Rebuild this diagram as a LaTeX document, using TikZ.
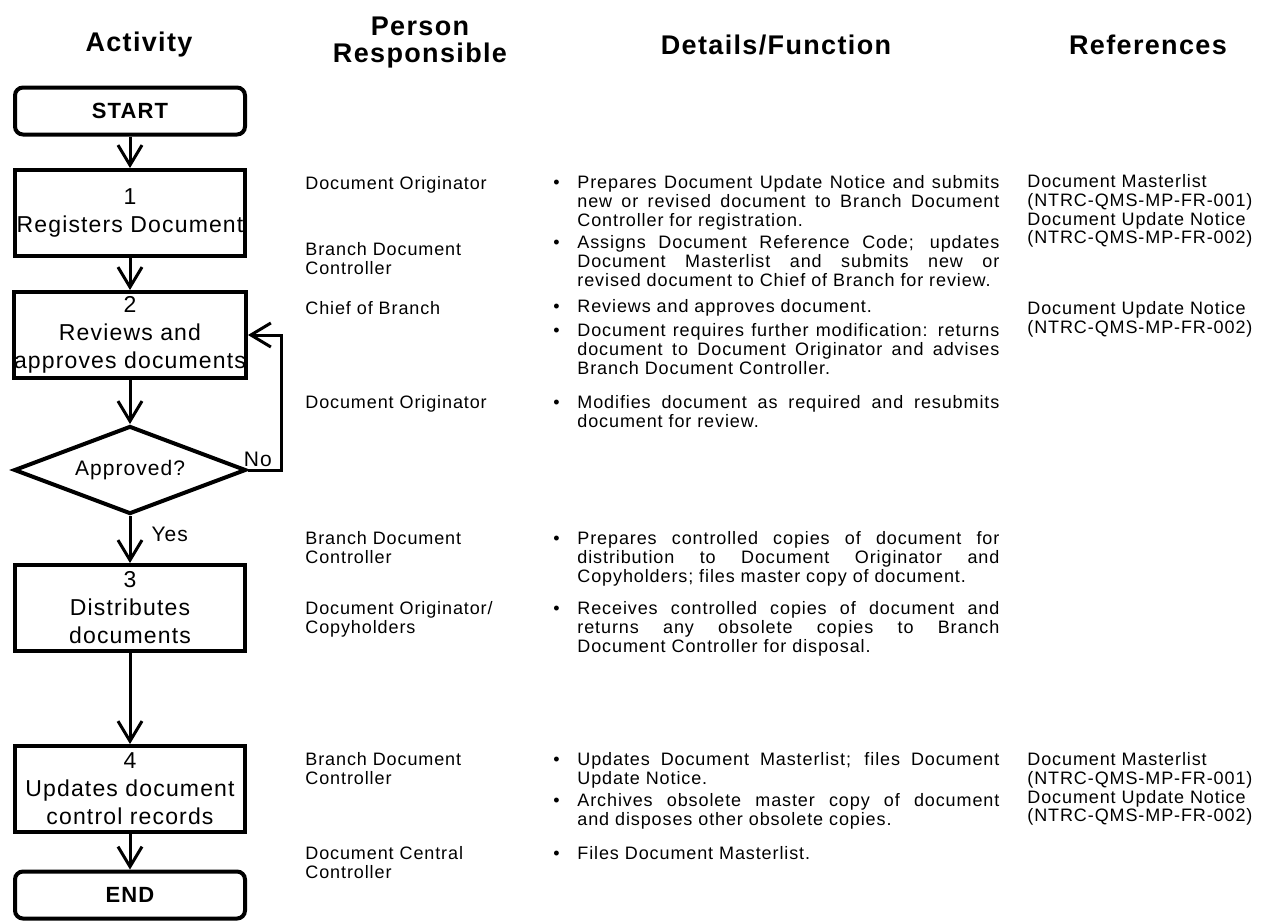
\documentclass[tikz,border=0pt]{standalone}
\usepackage{fontspec}
\setmainfont{Liberation Sans}[LetterSpace=5]
\usetikzlibrary{arrows.meta,shapes.geometric,positioning}
\hfuzz=40pt
\hbadness=10000
\newcommand{\taskitem}[1]{\hangindent=12pt\hangafter=1\makebox[12pt][l]{\textbullet}#1\par}
\tikzset{
  every picture/.style={
    line join=miter,
    >={Straight Barb[length=10pt,width=12pt]},
  },
  colhead/.style={font=\fontsize{13.5}{13.5}\selectfont\bfseries, align=center},
  actbox/.style={draw, line width=2pt, minimum width=115pt, minimum height=43pt,
    inner sep=0pt, align=center, font=\fontsize{11.5}{14}\selectfont},
  termbox/.style={actbox, rounded corners=4pt, minimum height=23.5pt,
    font=\fontsize{11}{13}\selectfont\bfseries},
  decision/.style={draw, diamond, aspect=2.6, line width=2pt, minimum width=116pt,
    minimum height=44pt, inner sep=0pt, font=\fontsize{10.5}{13}\selectfont},
  flow/.style={->, line width=1.5pt},
  flowlabel/.style={inner sep=1pt, font=\fontsize{10.5}{13}\selectfont},
  who/.style={anchor=north west, inner sep=0pt, align=left, font=\fontsize{9}{9.4}\selectfont},
  task/.style={anchor=north west, inner sep=0pt, text width=223pt, align=justify,
    font=\fontsize{9}{9.4}\selectfont},
}
\begin{document}
\begin{tikzpicture}[x=0.5pt, y=-0.5pt]
\path[use as bounding box] (0,0) rectangle (1275,923);
% Column headings
\node[colhead] (hact) at (139,45) {Activity};
\node[colhead] (hwho) at (420,43) {Person\\Responsible};
\node[colhead] (hdet) at (776,45) {Details/Function};
\node[colhead] (href) at (1148,45) {References};

% Activity flow
\node[termbox] (start) at (130,111) {START};
\node[actbox] (act1) at (130,213) {1\\Registers Document};
\node[actbox] (act2) at (130,335) {2\\Reviews and\\approves documents};
\node[decision] (approved) at (130,470) {Approved?};
\node[actbox] (act3) at (130,608) {3\\Distributes\\documents};
\node[actbox] (act4) at (130,789) {4\\Updates document\\control records};
\node[termbox] (finish) at (130,895) {END};

\draw[flow] (start) -- (act1);
\draw[flow] (act1) -- (act2);
\draw[flow] (act2) -- (approved);
\draw[flow] (approved) -- node[flowlabel, anchor=west, pos=0.4, xshift=9pt] {Yes} (act3);
\draw[flow] (approved.east) -- node[flowlabel, above, pos=0.3] {No} ++(33,0) |- (act2.east);
\draw[flow] (act3) -- (act4);
\draw[flow] (act4) -- (finish);

% Person responsible
\node[who] (who1) at (305,176) {Document Originator};
\node[who] (who2) at (305,242) {Branch Document\\Controller};
\node[who] (who3) at (305,301) {Chief of Branch};
\node[who] (who4) at (305,395) {Document Originator};
\node[who] (who5) at (305,531) {Branch Document\\Controller};
\node[who] (who6) at (305,601) {Document Originator/\\Copyholders};
\node[who] (who7) at (305,752) {Branch Document\\Controller};
\node[who] (who8) at (305,846) {Document Central\\Controller};

% Details/function
\node[task] (task1) at (553,175) {\taskitem{Prepares Document Update Notice and submits\linebreak
  new or revised document to Branch Document\linebreak Controller for registration.}};
\node[task] (task2) at (553,235) {\taskitem{Assigns Document Reference Code; updates\linebreak
  Document Masterlist and submits new or\linebreak revised document to Chief of Branch for review.}};
\node[task] (task3) at (553,299) {\taskitem{Reviews and approves document.}};
\node[task] (task4) at (553,323) {\taskitem{Document requires further modification: returns\linebreak
  document to Document Originator and advises\linebreak Branch Document Controller.}};
\node[task] (task5) at (553,395) {\taskitem{Modifies document as required and resubmits\linebreak
  document for review.}};
\node[task] (task6) at (553,531) {\taskitem{Prepares controlled copies of document for\linebreak
  distribution to Document Originator and\linebreak Copyholders; files master copy of document.}};
\node[task] (task7) at (553,601) {\taskitem{Receives controlled copies of document and\linebreak
  returns any obsolete copies to Branch\linebreak Document Controller for disposal.}};
\node[task] (task8) at (553,752) {\taskitem{Updates Document Masterlist; files Document\linebreak
  Update Notice.}};
\node[task] (task9) at (553,793) {\taskitem{Archives obsolete master copy of document\linebreak
  and disposes other obsolete copies.}};
\node[task] (task10) at (553,846) {\taskitem{Files Document Masterlist.}};

% References
\node[who] (ref1) at (1027,174) {Document Masterlist\\(NTRC-QMS-MP-FR-001)\\Document Update Notice\\(NTRC-QMS-MP-FR-002)};
\node[who] (ref2) at (1027,301) {Document Update Notice\\(NTRC-QMS-MP-FR-002)};
\node[who] (ref3) at (1027,752) {Document Masterlist\\(NTRC-QMS-MP-FR-001)\\Document Update Notice\\(NTRC-QMS-MP-FR-002)};
\end{tikzpicture}
\end{document}
